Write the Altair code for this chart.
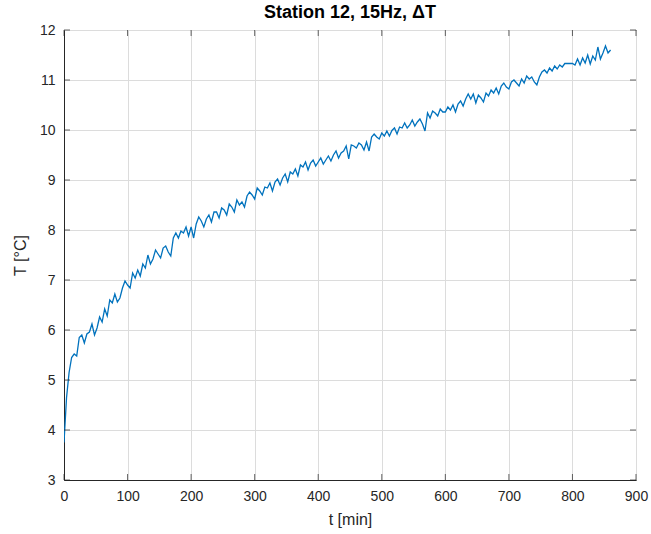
import altair as alt
import pandas as pd

t_min = list(range(0, 861, 4))
temp_c = [
    3.75, 4.65, 5.15, 5.45, 5.52, 5.48, 5.85, 5.90, 5.74, 5.92,
    5.96, 6.12, 5.90, 6.04, 6.26, 6.16, 6.42, 6.28, 6.60, 6.54,
    6.72, 6.56, 6.64, 6.84, 6.98, 6.90, 6.84, 7.14, 7.04, 7.20,
    7.08, 7.32, 7.24, 7.50, 7.32, 7.42, 7.60, 7.52, 7.44, 7.64,
    7.68, 7.56, 7.48, 7.84, 7.94, 7.84, 7.98, 7.94, 8.06, 7.88,
    8.06, 7.84, 8.12, 8.26, 8.18, 8.06, 8.22, 8.30, 8.16, 8.36,
    8.36, 8.24, 8.44, 8.40, 8.30, 8.52, 8.46, 8.36, 8.60, 8.50,
    8.56, 8.46, 8.68, 8.76, 8.70, 8.62, 8.84, 8.78, 8.70, 8.86,
    8.84, 8.94, 8.78, 8.96, 9.02, 8.90, 9.04, 9.12, 8.96, 9.16,
    9.12, 9.22, 9.08, 9.30, 9.26, 9.36, 9.20, 9.34, 9.40, 9.28,
    9.36, 9.44, 9.32, 9.40, 9.48, 9.38, 9.50, 9.58, 9.44, 9.54,
    9.58, 9.68, 9.42, 9.70, 9.68, 9.64, 9.74, 9.70, 9.60, 9.76,
    9.58, 9.86, 9.92, 9.86, 9.82, 9.94, 9.88, 9.98, 9.88, 9.99,
    10.04, 9.92, 10.06, 10.04, 10.14, 10.04, 10.10, 10.20, 10.08, 10.16,
    10.22, 10.12, 9.98, 10.34, 10.24, 10.38, 10.34, 10.28, 10.42, 10.36,
    10.36, 10.46, 10.40, 10.50, 10.36, 10.52, 10.58, 10.48, 10.62, 10.72,
    10.62, 10.72, 10.54, 10.70, 10.64, 10.56, 10.74, 10.68, 10.80, 10.74,
    10.84, 10.72, 10.88, 10.94, 10.86, 10.82, 10.96, 11.00, 10.94, 10.88,
    11.02, 10.94, 11.08, 11.02, 11.06, 10.96, 10.90, 11.06, 11.16, 11.20,
    11.14, 11.24, 11.18, 11.28, 11.22, 11.30, 11.26, 11.33, 11.33, 11.33,
    11.33, 11.30, 11.42, 11.30, 11.44, 11.34, 11.50, 11.32, 11.48, 11.40,
    11.66, 11.42, 11.54, 11.68, 11.54, 11.60,
]
x_ticks = [0, 100, 200, 300, 400, 500, 600, 700, 800, 900]
y_ticks = [3, 4, 5, 6, 7, 8, 9, 10, 11, 12]

W, H = 572, 450
FONT = "Liberation Sans"
INK = "#262626"

df = pd.DataFrame({"t": t_min, "T": temp_c})
xt = pd.DataFrame({"t": x_ticks})
yt = pd.DataFrame({"T": y_ticks})

xs = alt.Scale(domain=[0, 900], nice=False)
ys = alt.Scale(domain=[3, 12], nice=False)

line = alt.Chart(df).mark_line(color="#0072BD", strokeWidth=1.3, clip=True).encode(
    x=alt.X("t:Q", scale=xs, title="t [min]",
            axis=alt.Axis(values=x_ticks, format="d", ticks=False, labelPadding=9,
                          labelFlush=False, titlePadding=8)),
    y=alt.Y("T:Q", scale=ys, title="T [°C]",
            axis=alt.Axis(values=y_ticks, format="d", ticks=False, labelPadding=9,
                          labelFlush=False, titlePadding=11)),
)

tick_b = alt.Chart(xt).mark_tick(color=INK, size=6, thickness=1, orient="vertical").encode(
    x=alt.X("t:Q", scale=xs), y=alt.value(H - 3))
tick_t = alt.Chart(xt).mark_tick(color=INK, size=6, thickness=1, orient="vertical").encode(
    x=alt.X("t:Q", scale=xs), y=alt.value(3))
tick_l = alt.Chart(yt).mark_tick(color=INK, size=6, thickness=1, orient="horizontal").encode(
    y=alt.Y("T:Q", scale=ys), x=alt.value(3))
tick_r = alt.Chart(yt).mark_tick(color=INK, size=6, thickness=1, orient="horizontal").encode(
    y=alt.Y("T:Q", scale=ys), x=alt.value(W - 3))

chart = alt.layer(line, tick_b, tick_t, tick_l, tick_r).properties(
    width=W, height=H,
    background="white",
    title=alt.TitleParams("Station 12, 15Hz, ΔT", font=FONT, fontSize=18,
                          fontWeight="bold", color="#000000", offset=1, anchor="middle"),
    autosize=alt.AutoSizeParams(type="none"),
    padding={"left": 64, "top": 30, "right": 15, "bottom": 54},
).configure_view(
    stroke=INK, strokeWidth=1
).configure_axis(
    grid=True, gridColor="#dcdcdc", gridWidth=1,
    domain=True, domainColor=INK,
    labelFont=FONT, labelFontSize=14, labelColor=INK,
    titleFont=FONT, titleFontSize=16, titleColor=INK, titleFontWeight="normal",
)

chart.save("out.html", embed_options={"renderer": "svg", "actions": False})
